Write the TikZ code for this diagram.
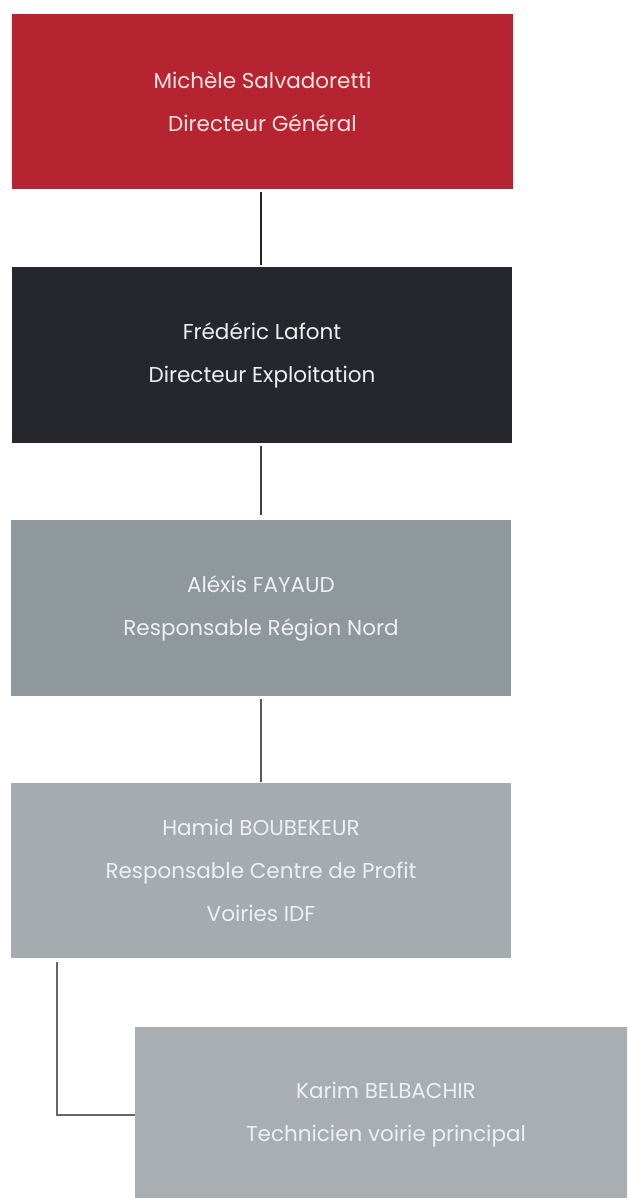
\documentclass[tikz,border=0pt]{standalone}
\usepackage{fontspec}
\setmainfont{Poppins}
\definecolor{boxred}{RGB}{181,36,48}
\definecolor{boxdark}{RGB}{37,39,44}
\definecolor{boxmid}{RGB}{143,152,157}
\definecolor{boxlight}{RGB}{166,171,175}
\definecolor{boxlight2}{RGB}{169,174,178}
\definecolor{txtred}{RGB}{245,228,226}
\definecolor{txtlight}{RGB}{238,240,242}
\begin{document}
\begin{tikzpicture}[x=1pt,y=-1pt,
  orgbox/.style={rectangle, inner sep=0pt, minimum width=500pt, minimum height=175pt,
    align=center, font=\fontsize{21.5}{43}\selectfont, text=txtlight},
  conn/.style={line width=1.1pt},
]
\clip (0,0) rectangle (627,1198);
\fill[white] (0,0) rectangle (627,1198);
\node[orgbox, fill=boxred, text=txtred, minimum width=501pt] (dg) at (262.5,101.5)
  {Michèle Salvadoretti\\Directeur Général};
\node[orgbox, fill=boxdark, minimum height=176pt] (de) at (262,355)
  {Frédéric Lafont\\Directeur Exploitation};
\node[orgbox, fill=boxmid, minimum height=176pt] (rn) at (261,608)
  {Aléxis FAYAUD\\Responsable Région Nord};
\node[orgbox, fill=boxlight] (cp) at (261,870.5)
  {Hamid BOUBEKEUR\\Responsable Centre de Profit\\Voiries IDF};
\node[orgbox, fill=boxlight2, minimum width=502pt] (tv) at (386,1114.5)
  {Karim BELBACHIR\\Technicien voirie principal};
\coordinate (elb) at (57,1115);
\draw[conn, draw=black!85] ([yshift=-3pt]dg.south -| 261,0) -- ([yshift=2pt]de.north -| 261,0);
\draw[conn, draw=black!75] ([yshift=-3pt]de.south -| 261,0) -- ([yshift=5pt]rn.north -| 261,0);
\draw[conn, draw=black!65] ([yshift=-3pt]rn.south) -- ([yshift=1pt]cp.north);
\draw[conn, draw=black!60] ([yshift=-4pt]cp.south -| elb) -- (elb) -- (tv.west |- elb);
\end{tikzpicture}
\end{document}
